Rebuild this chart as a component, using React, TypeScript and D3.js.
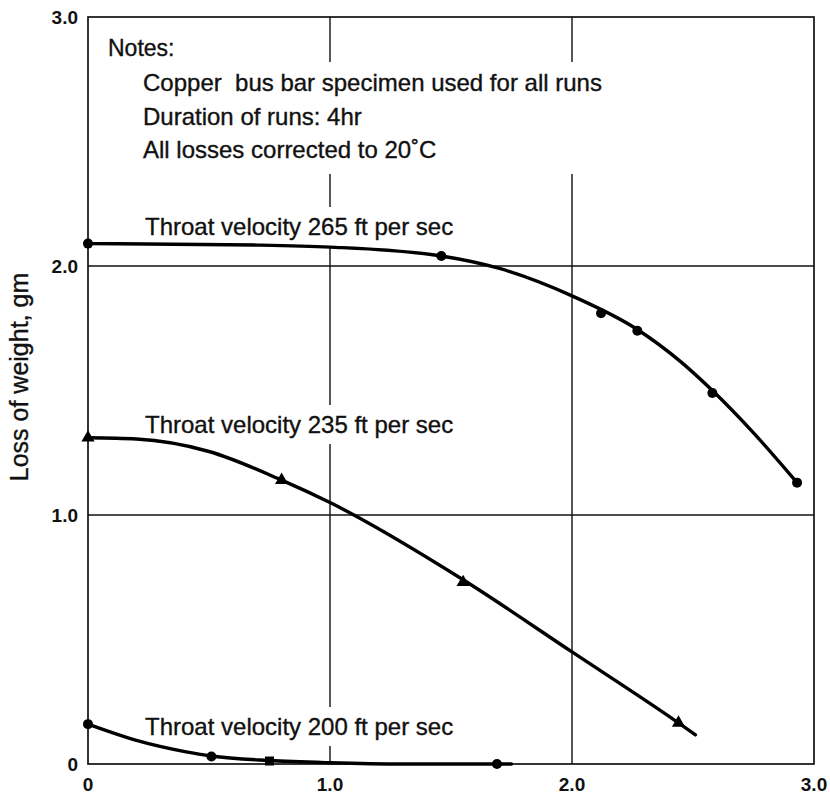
import React, { useEffect, useRef } from 'react';
import * as d3 from 'd3';

// axis ticks
const xTicks = [0, 1, 2, 3];
const yTicks = [0, 1, 2, 3];
const xTickLabels = ['0', '1.0', '2.0', '3.0'];
const yTickLabels = ['0', '1.0', '2.0', '3.0'];

// faired curves
const curve265: [number, number][] = [
  [0, 2.09], [0.7, 2.084], [1.0, 2.076], [1.46, 2.04], [1.7, 1.99],
  [2.0, 1.88], [2.27, 1.745], [2.45, 1.615], [2.58, 1.5], [2.75, 1.33], [2.93, 1.13],
];
const curve235: [number, number][] = [
  [0, 1.31], [0.2, 1.305], [0.5, 1.255], [0.8, 1.14], [1.0, 1.05],
  [1.55, 0.74], [2.0, 0.45], [2.44, 0.165], [2.51, 0.117],
];
const curve200: [number, number][] = [
  [0, 0.16], [0.2, 0.095], [0.4, 0.05], [0.51, 0.032], [0.75, 0.014],
  [1.0, 0.005], [1.3, 0.0], [1.75, 0.0],
];

// measured points
const points265: [number, number][] = [
  [0, 2.09], [1.46, 2.04], [2.12, 1.81], [2.27, 1.74], [2.58, 1.49], [2.93, 1.13],
];
const points235: [number, number][] = [
  [0, 1.31], [0.8, 1.14], [1.55, 0.73], [2.44, 0.165],
];
const points200: [number, number][] = [
  [0, 0.16], [0.51, 0.03], [1.69, 0.0],
];
const squares200: [number, number][] = [[0.75, 0.012]];

const notes = [
  'Copper  bus bar specimen used for all runs',
  'Duration of runs: 4hr',
  'All losses corrected to 20\u02DAC',
];

const seriesLabels = [
  'Throat velocity 265 ft per sec',
  'Throat velocity 235 ft per sec',
  'Throat velocity 200 ft per sec',
];

const W = 830;
const H = 798;
const FONT = "'Liberation Sans', Arial, Helvetica, sans-serif";

export default function App() {
  const ref = useRef<SVGSVGElement>(null);

  useEffect(() => {
    const svg = d3.select(ref.current);
    svg.selectAll('*').remove();

    const x = d3.scaleLinear().domain([0, 3]).range([88, 814]);
    const y = d3.scaleLinear().domain([0, 3]).range([764, 17]);

    const g = svg.append('g');

    // grid lines
    g.selectAll('line.gx')
      .data([1, 2])
      .join('line')
      .attr('x1', (d) => x(d)).attr('x2', (d) => x(d))
      .attr('y1', y(3)).attr('y2', y(0))
      .attr('stroke', '#111').attr('stroke-width', 1.4);
    g.selectAll('line.gy')
      .data([1, 2])
      .join('line')
      .attr('x1', x(0)).attr('x2', x(3))
      .attr('y1', (d) => y(d)).attr('y2', (d) => y(d))
      .attr('stroke', '#111').attr('stroke-width', 1.4);

    // white box behind notes breaks the grid lines
    const textLayer = svg.append('g');
    textLayer.append('rect')
      .attr('x', 135).attr('y', 62).attr('width', 480).attr('height', 112)
      .attr('fill', '#fff');

    // frame
    g.append('rect')
      .attr('x', x(0)).attr('y', y(3))
      .attr('width', x(3) - x(0)).attr('height', y(0) - y(3))
      .attr('fill', 'none').attr('stroke', '#111').attr('stroke-width', 1.7);

    const styleText = (t: any, size: number) =>
      t.attr('font-family', FONT).attr('font-size', size)
        .attr('fill', '#111').attr('stroke', '#111').attr('stroke-width', 0.35);

    // series labels with white background
    const labelY = [235, 433, 735];
    seriesLabels.forEach((s, i) => {
      const t = styleText(textLayer.append('text'), 24)
        .attr('x', 145).attr('y', labelY[i])
        .text(s);
      const bb = (t.node() as SVGTextElement).getBBox();
      textLayer.insert('rect', 'text')
        .attr('x', bb.x - 2).attr('y', bb.y - 6)
        .attr('width', bb.width + 4).attr('height', bb.height + 12)
        .attr('fill', '#fff');
    });

    // notes
    styleText(textLayer.append('text'), 23)
      .attr('x', 108).attr('y', 56)
      .text('Notes:');
    styleText(
      textLayer.selectAll('text.note').data(notes).join('text').attr('class', 'note'),
      24
    )
      .attr('x', 143)
      .attr('y', (_: any, i: number) => 91 + i * 33.5)
      .style('white-space', 'pre')
      .text((d: string) => d);

    // curves
    const line = d3.line<[number, number]>()
      .x((d) => x(d[0])).y((d) => y(d[1]))
      .curve(d3.curveMonotoneX);
    [curve265, curve235, curve200].forEach((c) => {
      svg.append('path')
        .datum(c)
        .attr('d', line)
        .attr('fill', 'none')
        .attr('stroke', '#000')
        .attr('stroke-width', 3.4)
        .attr('stroke-linecap', 'round');
    });

    // markers
    svg.selectAll('circle.p265')
      .data(points265)
      .join('circle')
      .attr('cx', (d) => x(d[0])).attr('cy', (d) => y(d[1]))
      .attr('r', 5).attr('fill', '#000');
    const tri = d3.symbol().type(d3.symbolTriangle).size(75);
    svg.selectAll('path.p235')
      .data(points235)
      .join('path')
      .attr('transform', (d) => `translate(${x(d[0])},${y(d[1])})`)
      .attr('d', tri)
      .attr('fill', '#000');
    svg.selectAll('circle.p200')
      .data(points200)
      .join('circle')
      .attr('cx', (d) => x(d[0])).attr('cy', (d) => y(d[1]))
      .attr('r', 5).attr('fill', '#000');
    svg.selectAll('rect.s200')
      .data(squares200)
      .join('rect')
      .attr('x', (d) => x(d[0]) - 4.5).attr('y', (d) => y(d[1]) - 4.5)
      .attr('width', 9).attr('height', 9).attr('fill', '#000');

    // tick labels
    svg.selectAll('text.yt')
      .data(yTicks)
      .join('text')
      .attr('x', 78)
      .attr('y', (d) => y(d))
      .attr('dy', '0.35em')
      .attr('text-anchor', 'end')
      .attr('font-family', FONT).attr('font-size', 19).attr('font-weight', 'bold')
      .attr('fill', '#111')
      .text((_, i) => yTickLabels[i]);
    svg.selectAll('text.xt')
      .data(xTicks)
      .join('text')
      .attr('x', (d) => x(d))
      .attr('y', 791)
      .attr('text-anchor', 'middle')
      .attr('font-family', FONT).attr('font-size', 19).attr('font-weight', 'bold')
      .attr('fill', '#111')
      .text((_, i) => xTickLabels[i]);

    // y axis title
    styleText(svg.append('text'), 25)
      .attr('transform', `translate(28,${377}) rotate(-90)`)
      .attr('text-anchor', 'middle')
      .text('Loss of weight, gm');
  }, []);

  return (
    <svg
      ref={ref}
      width={W}
      height={H}
      style={{ position: 'absolute', left: 0, top: 0, background: '#fff' }}
    />
  );
}
